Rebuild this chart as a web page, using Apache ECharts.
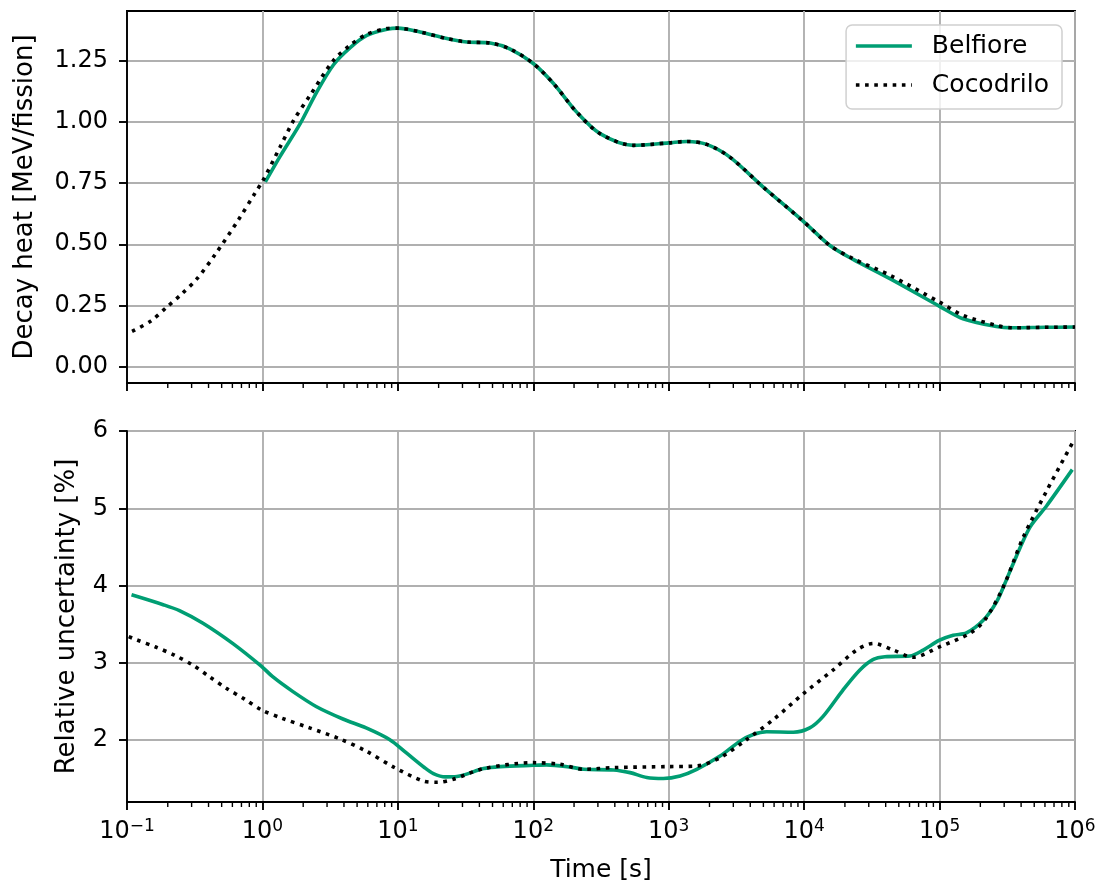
<!DOCTYPE html>
<html>
<head>
<meta charset="utf-8">
<script src="https://cdn.jsdelivr.net/npm/echarts@6/dist/echarts.min.js"></script>
<style>
html,body{margin:0;padding:0;background:#fff;}
#chart{width:1101px;height:884px;}
</style>
</head>
<body>
<div id="chart"></div>
<script>
// ---------- DATA ----------
const seriesNames = ['Belfiore', 'Cocodrilo'];
const xTickValues = [0.1, 1, 10, 100, 1000, 10000, 100000, 1000000];
const minorMultipliers = [2, 3, 4, 5, 6, 7, 8, 9];
const topYTicks = [0, 0.25, 0.5, 0.75, 1.0, 1.25];
const bottomYTicks = [2, 3, 4, 5, 6];

// Decay heat [MeV/fission]
const cocTopT = [0.109, 0.15, 0.197, 0.255, 0.329, 0.449, 0.667, 0.885, 1.0, 1.35, 1.70, 2.25, 3.35, 4.45, 5.9, 8.3, 10, 14.6, 23, 32.3, 48, 67, 100, 141, 210, 311, 548, 1000, 1360, 1906, 2830, 4990, 10000, 15500, 23000, 43000, 100000, 149000, 263000, 349000, 600000, 1000000];
const cocTopV = [0.143, 0.186, 0.243, 0.298, 0.359, 0.459, 0.601, 0.711, 0.757, 0.898, 1.007, 1.11, 1.253, 1.315, 1.36, 1.383, 1.385, 1.369, 1.342, 1.328, 1.324, 1.30, 1.24, 1.158, 1.04, 0.953, 0.905, 0.915, 0.921, 0.909, 0.857, 0.734, 0.591, 0.495, 0.441, 0.373, 0.263, 0.209, 0.168, 0.158, 0.160, 0.161];
const belTopT = [1.05, 1.35, 1.9, 2.5, 3.35, 4.45, 5.9, 8.3, 10, 14.6, 23, 32.3, 48, 67, 100, 141, 210, 311, 548, 1000, 1360, 1906, 2830, 4990, 10000, 15500, 23000, 43000, 100000, 149000, 263000, 349000, 600000, 1000000];
const belTopV = [0.755, 0.86, 0.994, 1.12, 1.235, 1.305, 1.355, 1.38, 1.385, 1.369, 1.342, 1.328, 1.324, 1.30, 1.24, 1.158, 1.04, 0.953, 0.905, 0.915, 0.921, 0.909, 0.857, 0.734, 0.591, 0.495, 0.438, 0.359, 0.246, 0.195, 0.163, 0.158, 0.160, 0.161];

// Relative uncertainty [%]
const belBotT = [0.108, 0.185, 0.244, 0.364, 0.606, 0.98, 1.19, 1.68, 2.49, 3.93, 5.83, 8.67, 11.5, 15.7, 18.3, 22.4, 27.3, 42.9, 57, 100, 125, 198, 235, 390, 518, 688, 913, 1213, 1610, 2394, 3360, 4210, 5280, 8320, 11000, 13800, 19400, 25800, 32400, 39500, 60400, 75700, 100000, 126000, 158000, 210000, 263000, 303000, 349000, 463000, 616000, 955000];
const belBotV = [3.881, 3.753, 3.676, 3.513, 3.249, 2.958, 2.821, 2.628, 2.436, 2.274, 2.159, 2.009, 1.838, 1.646, 1.568, 1.525, 1.53, 1.632, 1.658, 1.675, 1.68, 1.645, 1.623, 1.615, 1.58, 1.517, 1.504, 1.537, 1.623, 1.794, 1.987, 2.073, 2.108, 2.103, 2.159, 2.308, 2.652, 2.909, 3.046, 3.08, 3.089, 3.166, 3.294, 3.358, 3.388, 3.551, 3.787, 4.023, 4.28, 4.751, 5.03, 5.50];
const cocBotT = [0.103, 0.117, 0.163, 0.224, 0.307, 0.407, 0.541, 0.738, 0.98, 1.38, 2.23, 3.71, 5.83, 9.44, 15.3, 19.5, 25.7, 42.9, 100, 158, 235, 390, 1000, 1610, 2394, 3770, 5920, 10000, 16400, 24400, 32400, 45500, 63800, 100000, 167000, 215000, 295000, 414000, 616000, 955000];
const cocBotV = [3.34, 3.30, 3.205, 3.099, 2.97, 2.82, 2.672, 2.531, 2.394, 2.287, 2.159, 2.018, 1.859, 1.646, 1.474, 1.455, 1.495, 1.632, 1.709, 1.688, 1.623, 1.645, 1.658, 1.666, 1.773, 2.009, 2.266, 2.609, 2.909, 3.166, 3.252, 3.166, 3.072, 3.208, 3.38, 3.551, 3.98, 4.622, 5.222, 5.843];

// ---------- STYLE ----------
const FONT = 'DejaVu Sans';
const GREEN = '#009E73';
const GRIDC = '#b0b0b0';
const TOP_Y = [-0.068, 1.455];
const BOT_Y = [1.2, 6.0];
const X_RANGE = [0.1, 1000000];

function zip(t, v) { return t.map((x, i) => [x, v[i]]); }

const minorTicks = [];
for (let i = 0; i < xTickValues.length - 1; i++) {
  minorMultipliers.forEach(m => minorTicks.push([xTickValues[i] * m]));
}

function supLabel(v) {
  const e = Math.round(Math.log10(v));
  const s = e < 0 ? '\u2212' + (-e) : String(e);
  return '{b|10}{s|' + s + '}';
}

function xAxisCfg(idx, showLabels) {
  return {
    type: 'log', logBase: 10, gridIndex: idx, min: X_RANGE[0], max: X_RANGE[1],
    axisLine: { show: true, onZero: false, lineStyle: { color: '#000', width: 1.9 } },
    axisTick: { show: true, length: 8, lineStyle: { color: '#000', width: 1.9 } },
    splitLine: { show: true, lineStyle: { color: GRIDC, width: 1.9 } },
    axisLabel: {
      show: showLabels, margin: 14, formatter: supLabel,
      rich: {
        b: { fontSize: 24, fontFamily: FONT, color: '#000', verticalAlign: 'bottom', lineHeight: 28 },
        s: { fontSize: 17, fontFamily: FONT, color: '#000', verticalAlign: 'bottom', padding: [0, 0, 9, 0], lineHeight: 20 }
      }
    },
    name: showLabels ? 'Time [s]' : '', nameLocation: 'middle', nameGap: 56,
    nameTextStyle: { fontSize: 25, fontFamily: FONT, color: '#000' }
  };
}

function yAxisCfg(idx, range, ticks, name, gap, fmt) {
  return {
    type: 'value', gridIndex: idx, min: range[0], max: range[1],
    axisLine: { show: true, lineStyle: { color: '#000', width: 1.9 } },
    axisTick: { show: true, length: 8, customValues: ticks, lineStyle: { color: '#000', width: 1.9 } },
    splitLine: { show: true, lineStyle: { color: GRIDC, width: 1.9 } },
    axisLabel: { customValues: ticks, margin: 19, fontSize: 24, fontFamily: FONT, color: '#000', formatter: fmt },
    name: name, nameLocation: 'middle', nameRotate: 90, nameGap: gap,
    nameTextStyle: { fontSize: 26, fontFamily: FONT, color: '#000' }
  };
}

function minorSeries(idx, yMin) {
  return {
    type: 'custom', xAxisIndex: idx, yAxisIndex: idx, silent: true, clip: false,
    data: minorTicks,
    renderItem: function (params, api) {
      const p = api.coord([api.value(0), yMin]);
      return { type: 'line', shape: { x1: p[0], y1: p[1], x2: p[0], y2: p[1] + 5 },
               style: { stroke: '#000', lineWidth: 1.4 } };
    }
  };
}

const lineBel = { color: GREEN, width: 3.6, type: 'solid' };
const lineCoc = { color: '#000', width: 3.6, type: [3.6, 5.6], cap: 'butt' };

const option = {
  animation: false,
  backgroundColor: '#fff',
  grid: [
    { left: 127, right: 26, top: 11, height: 372, show: true, borderColor: '#000', borderWidth: 1.9, backgroundColor: 'transparent' },
    { left: 127, right: 26, top: 431, height: 372, show: true, borderColor: '#000', borderWidth: 1.9, backgroundColor: 'transparent' }
  ],
  legend: {
    data: seriesNames, orient: 'vertical', top: 25, right: 39,
    itemWidth: 56, itemHeight: 14, itemGap: 9,
    padding: [6, 13, 9, 8],
    itemStyle: { opacity: 0 },
    lineStyle: { width: 3.6 },
    borderColor: '#d0d0d0', borderWidth: 1.5, borderRadius: 6,
    backgroundColor: 'rgba(255,255,255,0.8)',
    textStyle: { fontSize: 25, fontFamily: FONT, color: '#000', lineHeight: 30, padding: [0, 0, 0, 15] }
  },
  xAxis: [xAxisCfg(0, false), xAxisCfg(1, true)],
  yAxis: [
    yAxisCfg(0, TOP_Y, topYTicks, 'Decay heat [MeV/fission]', 89, v => v.toFixed(2)),
    yAxisCfg(1, BOT_Y, bottomYTicks, 'Relative uncertainty [%]', 47, v => String(Math.round(v)))
  ],
  series: [
    { name: 'Belfiore', type: 'line', xAxisIndex: 0, yAxisIndex: 0, data: zip(belTopT, belTopV), symbol: 'none', smooth: 0.3, lineStyle: lineBel, itemStyle: { color: GREEN }, z: 3 },
    { name: 'Cocodrilo', type: 'line', xAxisIndex: 0, yAxisIndex: 0, data: zip(cocTopT, cocTopV), symbol: 'none', smooth: 0.3, lineStyle: lineCoc, itemStyle: { color: '#000' }, z: 4 },
    { name: 'Belfiore', type: 'line', xAxisIndex: 1, yAxisIndex: 1, data: zip(belBotT, belBotV), symbol: 'none', smooth: 0.3, lineStyle: lineBel, itemStyle: { color: GREEN }, z: 3 },
    { name: 'Cocodrilo', type: 'line', xAxisIndex: 1, yAxisIndex: 1, data: zip(cocBotT, cocBotV), symbol: 'none', smooth: 0.3, lineStyle: lineCoc, itemStyle: { color: '#000' }, z: 4 },
    minorSeries(0, TOP_Y[0]),
    minorSeries(1, BOT_Y[0])
  ]
};

const chart = echarts.init(document.getElementById('chart'), null, { renderer: 'canvas' });
chart.setOption(option);
</script>
</body>
</html>
